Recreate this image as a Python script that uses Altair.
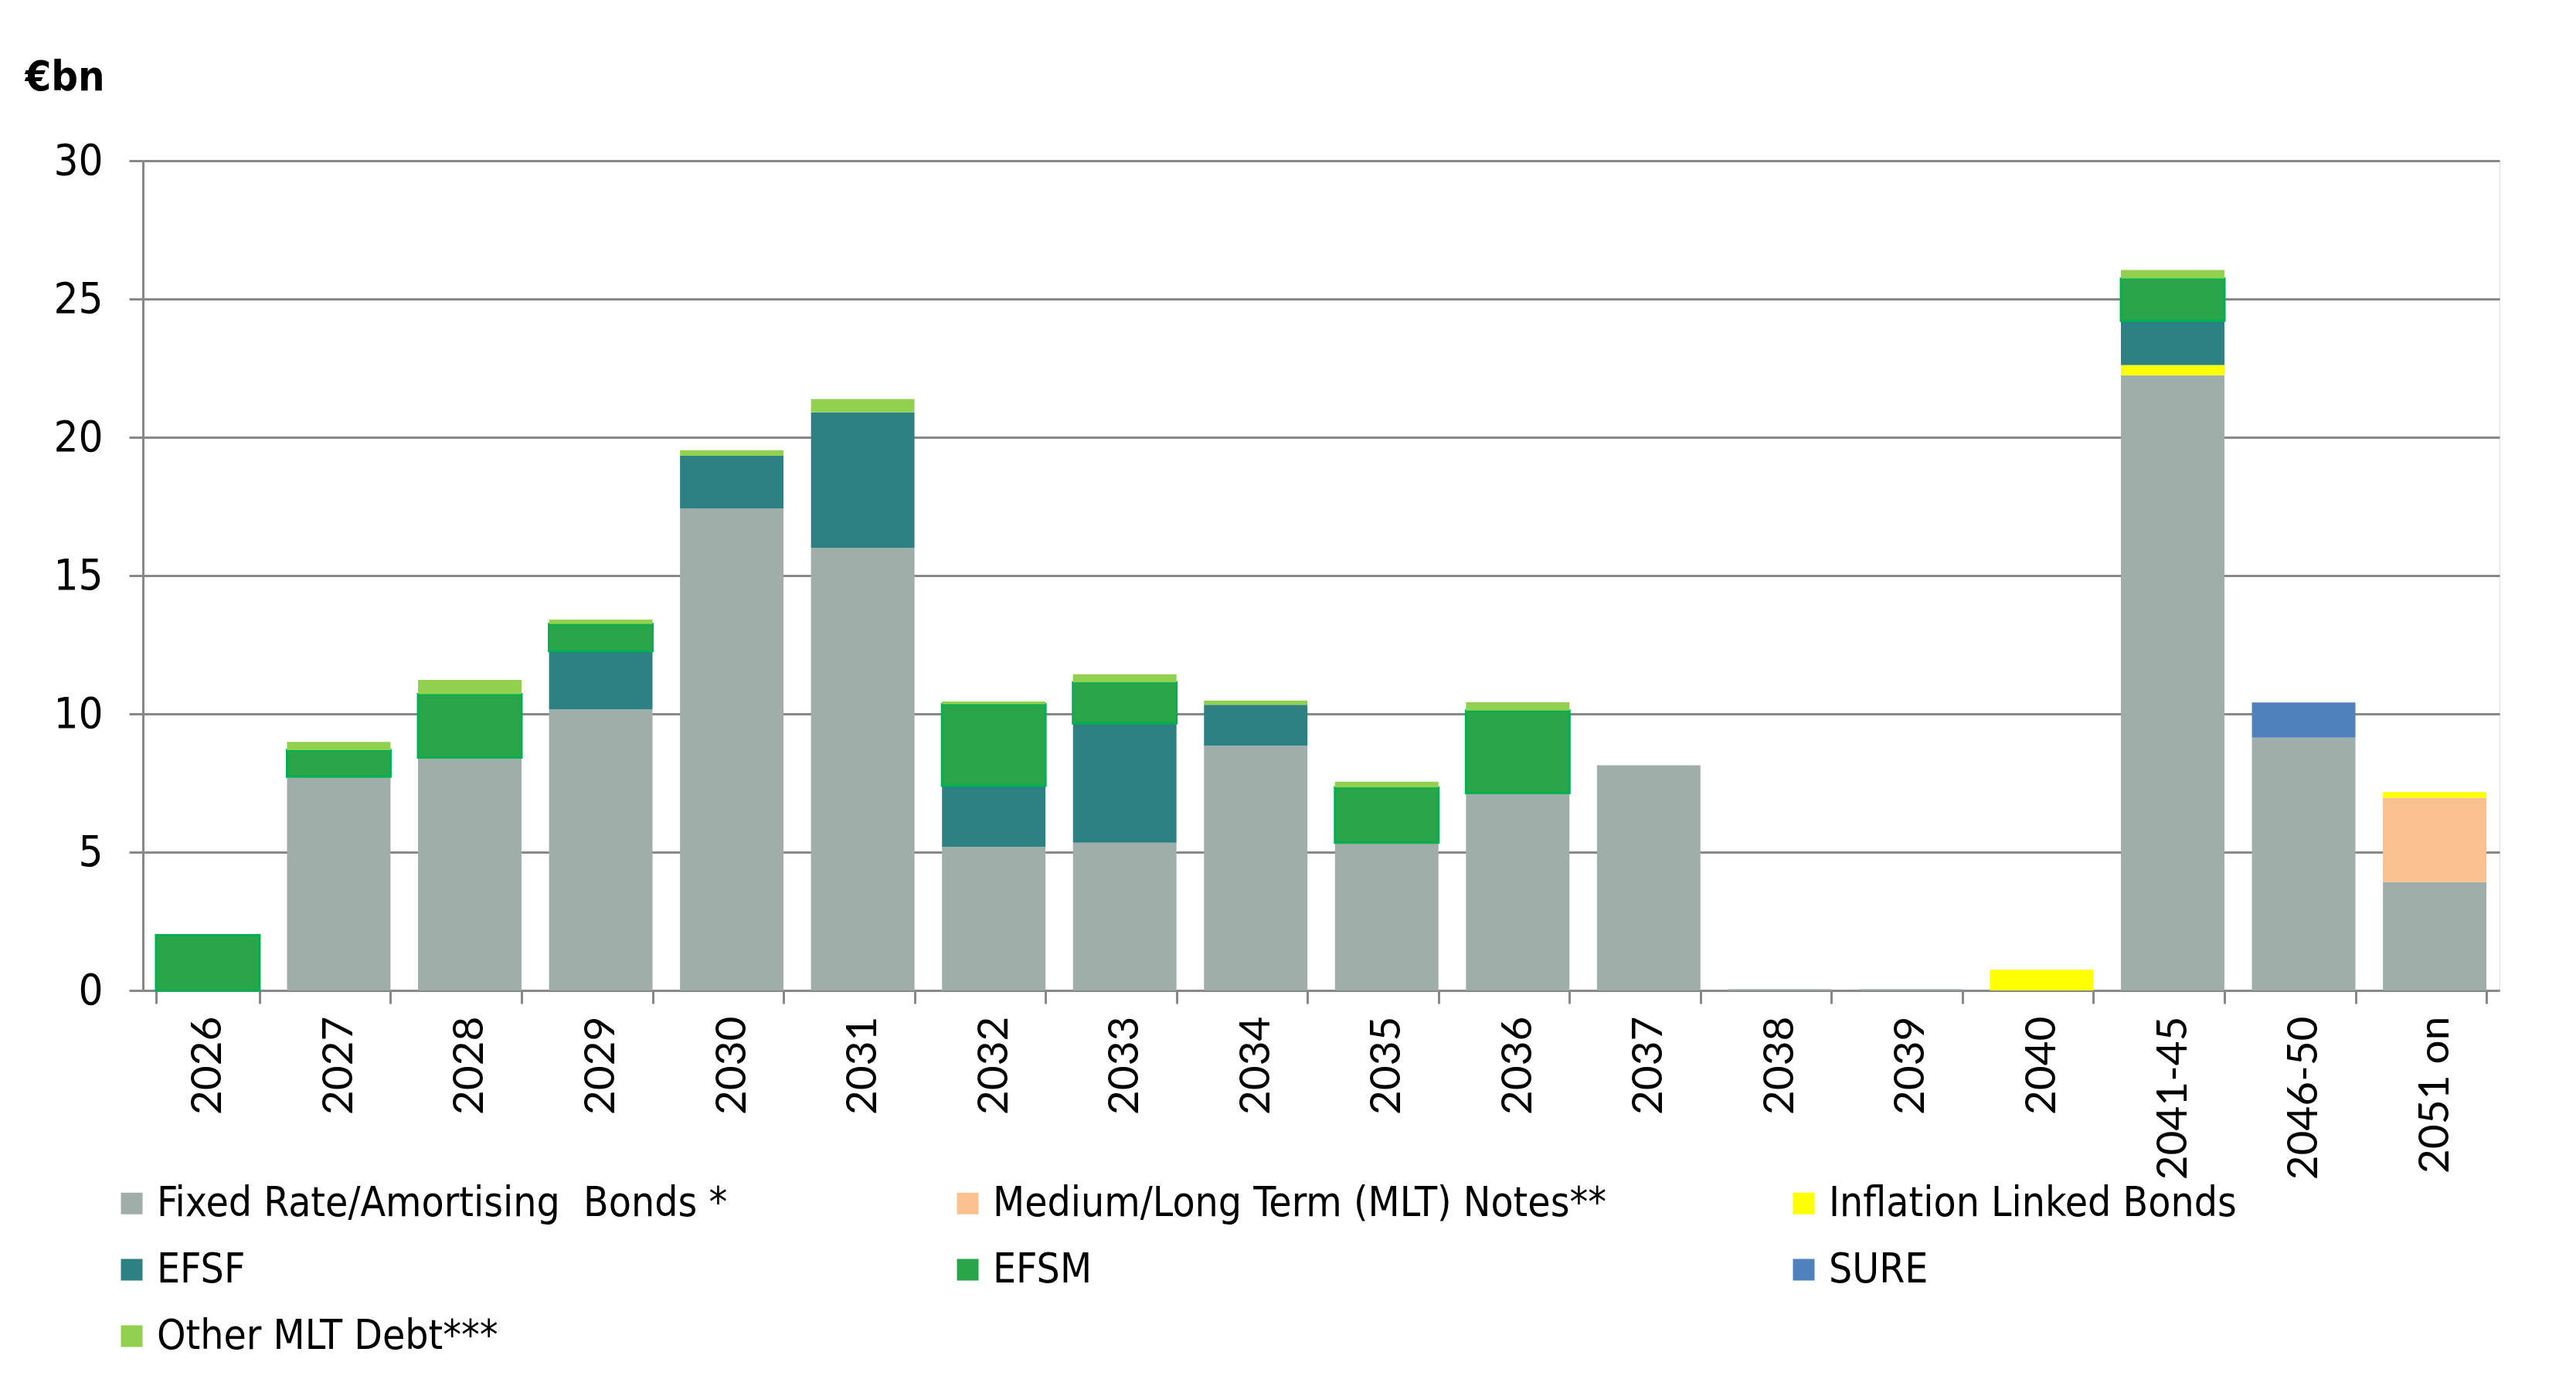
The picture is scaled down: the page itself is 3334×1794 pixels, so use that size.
import altair as alt
import pandas as pd

categories = ["2026", "2027", "2028", "2029", "2030", "2031", "2032", "2033", "2034",
              "2035", "2036", "2037", "2038", "2039", "2040", "2041-45", "2046-50", "2051 on"]

series_names = ["Fixed Rate/Amortising\u00a0 Bonds *", "Medium/Long Term (MLT) Notes**",
                "Inflation Linked Bonds", "EFSF", "EFSM", "SURE", "Other MLT Debt***"]
series_colors = ["#A0AEAA", "#F8C18F", "#FFFF00", "#2D8183", "#2AA54A", "#4F81BD", "#92D050"]

fixed = [0, 7.73, 8.42, 10.16, 17.43, 16.0, 5.19, 5.34, 8.85, 5.34, 7.14, 8.14, 0.05, 0.05, 0, 22.24, 9.14, 3.92]
mlt_notes = [0, 0, 0, 0, 0, 0, 0, 0, 0, 0, 0, 0, 0, 0, 0, 0, 0, 3.05]
inflation = [0, 0, 0, 0, 0, 0, 0, 0, 0, 0, 0, 0, 0, 0, 0.75, 0.37, 0, 0.2]
efsf = [0, 0, 0, 2.11, 1.9, 4.9, 2.21, 4.32, 1.48, 0, 0, 0, 0, 0, 0, 1.6, 0, 0]
efsm = [2.0, 0.96, 2.29, 0.98, 0, 0, 2.95, 1.48, 0, 2.0, 2.98, 0, 0, 0, 0, 1.53, 0, 0]
sure = [0, 0, 0, 0, 0, 0, 0, 0, 0, 0, 0, 0, 0, 0, 0, 0, 1.27, 0]
other = [0, 0.3, 0.52, 0.16, 0.2, 0.48, 0.1, 0.29, 0.15, 0.21, 0.3, 0, 0, 0, 0, 0.31, 0, 0]

y_ticks = [0, 5, 10, 15, 20, 25, 30]

all_series = [fixed, mlt_notes, inflation, efsf, efsm, sure, other]
rows = []
for si, (name, vals) in enumerate(zip(series_names, all_series)):
    for cat, v in zip(categories, vals):
        if v > 0:
            rows.append({"cat": cat, "series": name, "idx": si, "val": v})
df = pd.DataFrame(rows)

COND_FONT = "Liberation Sans Narrow, DejaVu Sans Condensed, Roboto Condensed, Liberation Sans, sans-serif"
GRID = "#888888"

is_efsm = alt.datum.series == "EFSM"

chart = alt.Chart(df).mark_bar().encode(
    x=alt.X("cat:N", sort=categories,
            scale=alt.Scale(paddingInner=0.21, paddingOuter=0.1),
            axis=alt.Axis(title=None, labelAngle=-90, labelFont="Lato", labelFontSize=55,
                          labelColor="#000000", labelPadding=16, labelLimit=600,
                          tickSize=17, tickWidth=3,
                          tickColor=GRID, domainColor=GRID, domainWidth=3, tickBand="extent",
                          grid=False, labelBaseline="middle")),
    y=alt.Y("val:Q", stack="zero",
            scale=alt.Scale(domain=[0, 30], nice=False),
            axis=alt.Axis(values=y_ticks, title="€bn", titleAngle=0, titleAlign="left",
                          titleBaseline="middle", titleX=-153, titleY=-108,
                          titleFont=COND_FONT, titleFontSize=54, titleFontWeight="bold",
                          titleColor="#000000",
                          labelFont=COND_FONT, labelFontSize=56, labelColor="#000000",
                          labelPadding=34, tickSize=18, tickWidth=3, tickColor=GRID,
                          domainColor=GRID, domainWidth=3, grid=True, gridColor=GRID,
                          gridWidth=3)),
    color=alt.Color("series:N",
                    scale=alt.Scale(domain=series_names, range=series_colors),
                    legend=alt.Legend(title=None, orient="none", legendX=-41, legendY=1323,
                                      direction="horizontal", values=series_names,
                                      columns=3, gridAlign="all", columnPadding=228,
                                      rowPadding=32, symbolType="square", symbolSize=784,
                                      symbolStrokeWidth=0, labelFont=COND_FONT,
                                      labelFontSize=53, labelColor="#000000",
                                      labelOffset=6, labelLimit=1200)),
    order=alt.Order("idx:Q"),
    stroke=alt.condition(is_efsm, alt.value("#00B050"), alt.value("transparent")),
    strokeWidth=alt.condition(is_efsm, alt.value(3), alt.value(0)),
).properties(
    width=3050,
    height=1074,
    autosize=alt.AutoSizeParams(type="none"),
    padding={"left": 177, "top": 200, "right": 80, "bottom": 490},
).configure_view(stroke=None).configure(background="#ffffff")

chart.save("out.html", embed_options={"renderer": "svg", "actions": False})
